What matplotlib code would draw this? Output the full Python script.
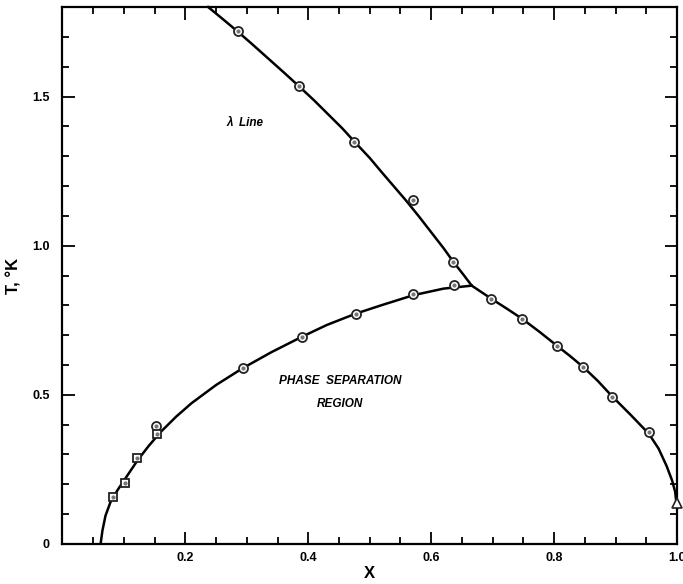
"""He3-He4 phase diagram: lambda line and phase separation curve."""
import matplotlib

matplotlib.use("Agg")
import matplotlib.pyplot as plt  # noqa: E402
from matplotlib.ticker import MultipleLocator, FixedLocator  # noqa: E402

# measured points
lam_x = [0.285, 0.385, 0.475, 0.571, 0.636]
lam_t = [1.718, 1.534, 1.349, 1.152, 0.946]

sep_x = [0.152, 0.293, 0.389, 0.477, 0.571, 0.637]
sep_t = [0.396, 0.591, 0.695, 0.772, 0.839, 0.868]

right_x = [0.698, 0.748, 0.805, 0.847, 0.894, 0.954]
right_t = [0.822, 0.755, 0.664, 0.594, 0.493, 0.376]

sq_x = [0.083, 0.101, 0.122, 0.154]
sq_t = [0.159, 0.204, 0.288, 0.369]

tri_x = [1.0]
tri_t = [0.137]

# drawn curves
lam_curve_x = [0.237, 0.26, 0.285, 0.31, 0.335, 0.36, 0.385, 0.41, 0.43, 0.455, 0.475,
               0.50, 0.52, 0.54, 0.560, 0.58, 0.60, 0.62, 0.636, 0.652, 0.666,
               0.698, 0.723, 0.748, 0.777, 0.805, 0.826, 0.847, 0.871, 0.894, 0.925,
               0.954, 0.97, 0.983, 0.992, 0.997, 1.0]
lam_curve_t = [1.80, 1.761, 1.718, 1.673, 1.627, 1.581, 1.534, 1.486, 1.445, 1.394, 1.349,
               1.294, 1.245, 1.197, 1.149, 1.098, 1.045, 0.992, 0.946, 0.904, 0.866,
               0.822, 0.789, 0.755, 0.710, 0.664, 0.630, 0.594, 0.547, 0.496, 0.432,
               0.370, 0.320, 0.262, 0.213, 0.175, 0.12]

sep_curve_x = [0.062, 0.065, 0.070, 0.078, 0.090, 0.105, 0.122, 0.140, 0.160, 0.185, 0.210,
               0.25, 0.293, 0.34, 0.389, 0.43, 0.477, 0.52, 0.571, 0.62, 0.666]
sep_curve_t = [0.0, 0.045, 0.095, 0.140, 0.182, 0.228, 0.280, 0.328, 0.376, 0.427, 0.472,
               0.533, 0.589, 0.643, 0.694, 0.734, 0.772, 0.801, 0.834, 0.856, 0.866]

plt.rcParams["font.family"] = ["Liberation Sans", "DejaVu Sans"]

fig = plt.figure(figsize=(6.83, 5.84), dpi=100)
ax = fig.add_axes([0.0915, 0.0685, 0.8997, 0.9195])

ax.plot(lam_curve_x, lam_curve_t, color="black", lw=1.8, clip_on=False, zorder=2)
ax.plot(sep_curve_x, sep_curve_t, color="black", lw=1.8, zorder=2)

circ = dict(ls="none", marker="o", ms=6.5, mfc="white", mec="#222222", mew=1.3, zorder=3)
dot = dict(ls="none", marker="o", ms=2.0, color="#777777", zorder=4)
for xs, ts in [(lam_x, lam_t), (sep_x, sep_t), (right_x, right_t)]:
    ax.plot(xs, ts, **circ)
    ax.plot(xs, ts, **dot)
ax.plot(sq_x, sq_t, ls="none", marker="s", ms=6.3, mfc="white", mec="#222222", mew=1.3, zorder=3)
ax.plot(sq_x, sq_t, **dot)
ax.plot(tri_x, tri_t, ls="none", marker="^", ms=6.5, mfc="white", mec="#222222", mew=1.2,
        zorder=5, clip_on=False)

ax.set_xlim(0, 1.0)
ax.set_ylim(0, 1.8)

ax.xaxis.set_major_locator(FixedLocator([0.2, 0.4, 0.6, 0.8, 1.0]))
ax.xaxis.set_minor_locator(MultipleLocator(0.05))
ax.yaxis.set_major_locator(FixedLocator([0, 0.5, 1.0, 1.5]))
ax.yaxis.set_minor_locator(MultipleLocator(0.1))
ax.set_xticklabels(["0.2", "0.4", "0.6", "0.8", "1.0"])
ax.set_yticklabels(["0", "0.5", "1.0", "1.5"])

ax.tick_params(which="both", direction="in", top=True, right=True, width=1.3, labelsize=9)
ax.tick_params(which="major", length=9)
ax.tick_params(which="minor", length=5)
ax.tick_params(axis="x", pad=6)
ax.tick_params(axis="y", pad=9)
for lab in ax.get_xticklabels() + ax.get_yticklabels():
    lab.set_fontweight("bold")
for s in ax.spines.values():
    s.set_linewidth(1.6)

ax.set_xlabel("X", fontsize=12, fontweight="bold")
ax.set_ylabel("T, °K", fontsize=12, fontweight="bold")
ax.xaxis.set_label_coords(0.5, -0.041)
ax.yaxis.set_label_coords(-0.066, 0.5)

ax.text(0.297, 1.41, "λ  Line", fontsize=8.5, fontstyle="italic", fontweight="bold",
        ha="center", va="center")
ax.text(0.452, 0.545, "PHASE  SEPARATION", fontsize=8.5, fontstyle="italic",
        fontweight="bold", ha="center", va="center")
ax.text(0.452, 0.47, "REGION", fontsize=8.5, fontstyle="italic", fontweight="bold",
        ha="center", va="center")

fig.savefig("out.png", dpi=100)
plt.close(fig)
